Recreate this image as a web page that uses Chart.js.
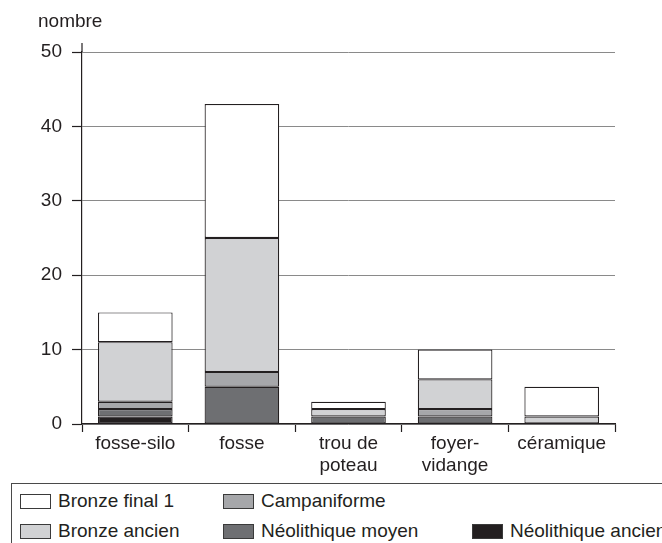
<!DOCTYPE html>
<html lang="fr">

<head>
  <meta charset="UTF-8" />
  <title>Structures par période</title>
  <style>
    body {
      margin: 0;
      background: #ffffff;
      font-family: 'Liberation Sans', Arial, sans-serif;
      color: #231f20;
      width: 662px;
      height: 543px;
      overflow: hidden;
      position: relative;
    }

    #chartBox {
      position: absolute;
      left: 0;
      top: 0;
      width: 662px;
      height: 480px;
    }

    /* legend goes column by column, two rows */
    .legend {
      position: absolute;
      left: 11px;
      top: 483px;
      width: 700px;
      height: 70px;
      border: 1.5px solid #4a4a4a;
      border-right: none;
      box-sizing: border-box;
    }

    .item {
      position: absolute;
      font-size: 19px;
      line-height: 22px;
      white-space: nowrap;
    }

    .swatch {
      position: absolute;
      top: 4px;
      width: 29px;
      height: 13px;
      border: 1px solid #3a3a3a;
    }
  </style>
</head>

<body>
  <div id="chartBox"><canvas id="chart" width="662" height="480"></canvas></div>
  <div class="legend" id="legend"></div>

  <script src="https://cdn.jsdelivr.net/npm/chart.js"></script>
  <script>
    const categories = ['fosse-silo', 'fosse', ['trou de', 'poteau'], ['foyer-', 'vidange'], 'céramique'];

    // stacked from the bottom up
    const neolithiqueAncien = [1, 0, 0, 0, 0];
    const neolithiqueMoyen = [1, 5, 1, 1, 0];
    const campaniforme = [1, 2, 0, 1, 0];
    const bronzeAncien = [8, 18, 1, 4, 1];
    const bronzeFinal1 = [4, 18, 1, 4, 4];

    const yTicks = [0, 10, 20, 30, 40, 50];

    const seriesNames = ['Néolithique ancien', 'Néolithique moyen', 'Campaniforme', 'Bronze ancien', 'Bronze final 1'];
    const seriesColors = ['#231f20', '#6e6f72', '#a6a7aa', '#d1d2d4', '#ffffff'];
    const seriesData = [neolithiqueAncien, neolithiqueMoyen, campaniforme, bronzeAncien, bronzeFinal1];

    const font = { family: "'Liberation Sans', Arial, sans-serif", size: 19 };

    const extras = {
      id: 'extras',
      afterDraw(chart) {
        const ctx = chart.ctx;
        const y = chart.scales.y;
        ctx.save();
        // axis runs a little past the top tick
        ctx.strokeStyle = '#231f20';
        ctx.lineWidth = 1.2;
        ctx.beginPath();
        ctx.moveTo(y.right, y.top - 9);
        ctx.lineTo(y.right, y.top);
        ctx.stroke();
        ctx.fillStyle = '#231f20';
        ctx.font = "19px 'Liberation Sans', Arial, sans-serif";
        ctx.textAlign = 'left';
        ctx.textBaseline = 'middle';
        ctx.fillText('nombre', 38, 22);
        ctx.restore();
      }
    };

    new Chart(document.getElementById('chart'), {
      type: 'bar',
      data: {
        labels: categories,
        datasets: seriesNames.map((name, i) => ({
          label: name,
          data: seriesData[i],
          backgroundColor: seriesColors[i],
          borderColor: '#231f20',
          borderWidth: 1.2,
          borderSkipped: false,
          barPercentage: 0.7,
          categoryPercentage: 1
        }))
      },
      options: {
        responsive: false,
        animation: false,
        layout: { padding: { top: 52, right: 47, bottom: 0, left: 0 } },
        plugins: {
          legend: { display: false },
          tooltip: { enabled: false }
        },
        scales: {
          x: {
            stacked: true,
            afterFit(scale) { scale.height = 56; },
            grid: { drawOnChartArea: false, tickLength: 8, tickColor: '#231f20', tickWidth: 1.2, offset: true },
            border: { color: '#231f20', width: 1.2 },
            ticks: { color: '#231f20', font: font, padding: 0, maxRotation: 0 }
          },
          y: {
            stacked: true,
            min: 0,
            max: 50,
            afterFit(scale) { scale.width = 82; },
            afterBuildTicks(scale) { scale.ticks = yTicks.map(v => ({ value: v })); },
            grid: { color: '#8a8a8a', lineWidth: 1, tickLength: 10, tickColor: '#231f20', tickWidth: 1.2 },
            border: { color: '#231f20', width: 1.2 },
            ticks: { color: '#231f20', font: font, padding: 10 }
          }
        }
      },
      plugins: [extras]
    });

    // legend: columns of two, same order as the printed key
    const legendOrder = [
      [4, 3],
      [2, 1],
      [null, 0]
    ];
    const colLeft = [8, 211, 460];
    const rowTop = [6, 36];
    const legend = document.getElementById('legend');
    legendOrder.forEach((col, c) => {
      col.forEach((idx, r) => {
        if (idx === null) return;
        const item = document.createElement('div');
        item.className = 'item';
        item.style.left = colLeft[c] + 'px';
        item.style.top = rowTop[r] + 'px';
        item.innerHTML = '<span class="swatch" style="background:' + seriesColors[idx] + '"></span>' +
          '<span style="margin-left:38px">' + seriesNames[idx] + '</span>';
        legend.appendChild(item);
      });
    });
  </script>
</body>

</html>
